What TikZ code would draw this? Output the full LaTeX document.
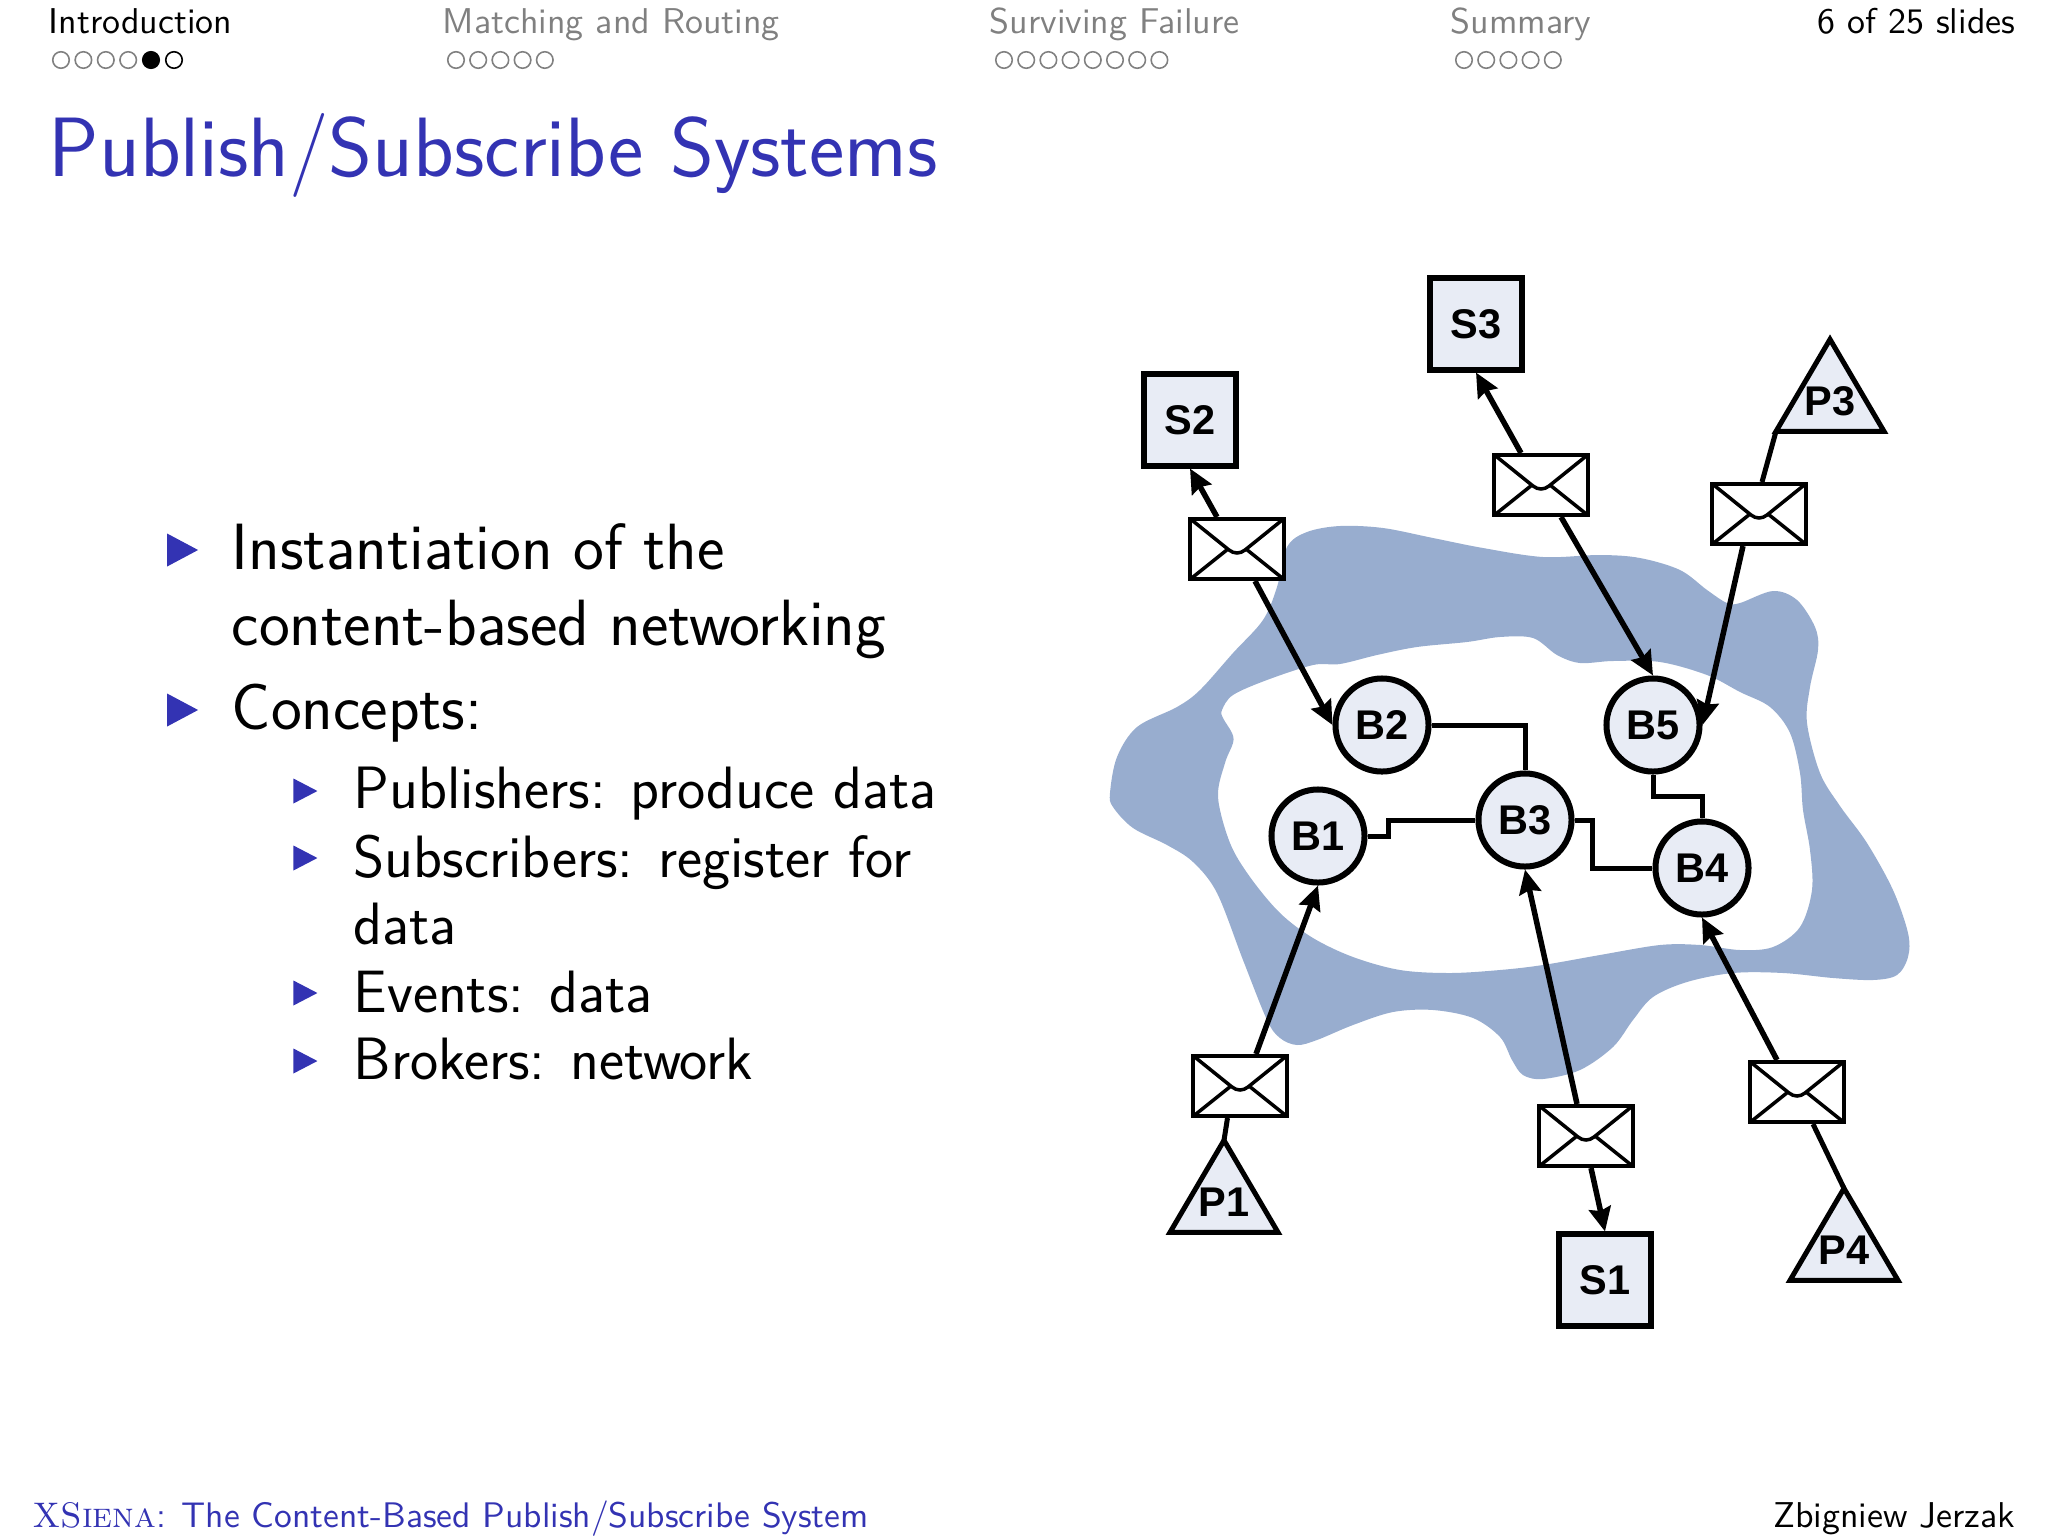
\documentclass[tikz,border=0pt]{standalone}
\usepackage{fontspec}
\usepackage{tikz}
\usetikzlibrary{arrows.meta,shapes.geometric}
\newfontfamily\labelfont{Liberation Sans}
\definecolor{slideBlue}{RGB}{51,51,179}
\definecolor{navGrey}{RGB}{128,128,128}
\definecolor{netBlue}{RGB}{152,173,207}
\definecolor{nodeFill}{RGB}{232,236,245}
\newcommand{\publabel}[1]{\raisebox{0pt}[0pt][0pt]{#1}}
\begin{document}
\begin{tikzpicture}[x=0.01cm,y=-0.01cm,
    navtext/.style={anchor=base west,inner sep=0pt,font=\sffamily\fontsize{10.2}{12}\selectfont},
    navdot/.style={draw,circle,minimum size=0.165cm,inner sep=0pt,line width=0.45pt},
    bodyA/.style={anchor=west,inner sep=0pt,align=left,font=\sffamily\fontsize{18.6}{21.5}\selectfont},
    bodyB/.style={anchor=west,inner sep=0pt,align=left,font=\sffamily\fontsize{17}{19.2}\selectfont},
    bulletA/.style={isosceles triangle,isosceles triangle stretches,fill=slideBlue,inner sep=0pt,minimum width=0.33cm,minimum height=0.31cm},
    bulletB/.style={isosceles triangle,isosceles triangle stretches,fill=slideBlue,inner sep=0pt,minimum width=0.25cm,minimum height=0.24cm},
    subbox/.style={draw,line width=0.06cm,fill=nodeFill,minimum size=0.91cm,inner sep=0pt,font=\labelfont\bfseries\fontsize{11.8}{13}\selectfont},
    brokernode/.style={draw,circle,line width=0.06cm,fill=nodeFill,minimum size=0.93cm,inner sep=0pt,font=\labelfont\bfseries\fontsize{11.8}{13}\selectfont},
    pubnode/.style={draw,isosceles triangle,isosceles triangle stretches,shape border rotate=90,line width=0.05cm,outer sep=0pt,fill=nodeFill,minimum width=1.08cm,minimum height=0.92cm,inner sep=0pt,font=\labelfont\bfseries\fontsize{11.8}{13}\selectfont},
    envelope/.style={draw,line width=0.04cm,fill=white,minimum width=0.93cm,minimum height=0.60cm,inner sep=0pt,
        path picture={
            \coordinate (c) at (path picture bounding box.center);
            \draw[line width=0.035cm] (path picture bounding box.north west) -- ([shift={(-8,1)}]c) .. controls ([shift={(-3,5)}]c) and ([shift={(3,5)}]c) .. ([shift={(8,1)}]c) -- (path picture bounding box.north east);
            \draw[line width=0.035cm] (path picture bounding box.south west) -- ([shift={(-9,0)}]c);
            \draw[line width=0.035cm] (path picture bounding box.south east) -- ([shift={(9,0)}]c);
        }},
    msg/.style={line width=0.055cm,-{Stealth[length=0.24cm,width=0.22cm,inset=0.03cm]}},
    link/.style={line width=0.05cm}]
    \useasboundingbox (0,0) rectangle (2048,1536);

    % headline
    \node[navtext] (navA) at (48,33) {Introduction};
    \node[navtext,text=navGrey] (navB) at (442,33) {Matching and Routing};
    \node[navtext,text=navGrey] (navC) at (989,33) {Surviving Failure};
    \node[navtext,text=navGrey] (navD) at (1450,33) {Summary};
    \node[navtext,anchor=base east] (navE) at (2016,33) {6 of 25 slides};
    \foreach \i in {0,1,2,3}
        \node[navdot,draw=navGrey] (dA\i) at (61+22.4*\i,60) {};
    \node[navdot,fill=black] (dA4) at (151,60) {};
    \node[navdot] (dA5) at (174,60) {};
    \foreach \i in {0,...,4}
        \node[navdot,draw=navGrey] (dB\i) at (456+22.2*\i,60) {};
    \foreach \i in {0,...,7}
        \node[navdot,draw=navGrey] (dC\i) at (1004+22.2*\i,60) {};
    \foreach \i in {0,...,4}
        \node[navdot,draw=navGrey] (dD\i) at (1464+22.2*\i,60) {};

    % title and bullets
    \node[anchor=base west,inner sep=0pt,text=slideBlue,font=\sffamily\fontsize{23.95}{28}\selectfont] (title) at (48,176) {Publish/Subscribe Systems};
    \node[bulletA] (bA1) at (177,550) {};
    \node[bulletA] (bA2) at (177,710) {};
    \foreach \y [count=\i] in {791,858,993,1061}
        \node[bulletB] (bB\i) at (301,\y) {};
    \node[bodyA] (itemA) at (231,591) {Instantiation of the\\content-based networking};
    \node[bodyA] (itemB) at (231,713) {Concepts:};
    \node[bodyB] (itemC) at (353,794) {Publishers: produce data};
    \node[bodyB] (itemD) at (353,890) {Subscribers: register for\\data};
    \node[bodyB] (itemE) at (353,992) {Events: data};
    \node[bodyB] (itemF) at (353,1059) {Brokers: network};

    % broker network
    \fill[netBlue,even odd rule]
        plot[smooth cycle,tension=0.55] coordinates {(1287,547)(1307,532)(1340,526)(1383,528)(1433,538)(1483,548)(1543,557)(1600,555)(1640,558)(1680,570)(1707,590)(1727,603)(1740,603)(1773,591)(1797,600)(1815,627)(1818,650)(1810,687)(1807,723)(1820,773)(1840,806)(1867,843)(1893,890)(1908,933)(1908,957)(1897,975)(1873,980)(1833,978)(1783,973)(1733,973)(1687,982)(1653,997)(1633,1020)(1613,1047)(1580,1070)(1543,1079)(1523,1075)(1512,1060)(1500,1037)(1473,1018)(1433,1010)(1393,1012)(1353,1025)(1317,1040)(1297,1045)(1280,1038)(1267,1020)(1243,960)(1217,893)(1193,862)(1167,845)(1133,828)(1113,807)(1110,793)(1117,757)(1137,727)(1177,707)(1200,690)(1233,653)(1263,620)(1277,587)}
        plot[smooth cycle,tension=0.55] coordinates {(1222,710)(1233,695)(1267,680)(1313,665)(1340,664)(1377,655)(1417,647)(1467,642)(1500,637)(1533,638)(1557,655)(1580,663)(1613,661)(1660,662)(1707,675)(1740,692)(1770,707)(1790,733)(1800,773)(1803,810)(1810,850)(1812,890)(1800,927)(1773,947)(1740,950)(1700,945)(1660,945)(1600,955)(1543,965)(1500,970)(1450,973)(1400,970)(1353,957)(1313,938)(1280,913)(1250,877)(1230,843)(1218,797)(1225,763)(1233,743)(1232,733)(1223,718)};

    \node[brokernode] (b1) at (1318,836) {B1};
    \node[brokernode] (b2) at (1382,725) {B2};
    \node[brokernode] (b3) at (1525,820) {B3};
    \node[brokernode] (b4) at (1702,868) {B4};
    \node[brokernode] (b5) at (1653,725) {B5};

    \node[subbox] (s1) at (1605,1280) {S1};
    \node[subbox] (s2) at (1190,420) {S2};
    \node[subbox] (s3) at (1476,324) {S3};

    \node[pubnode] (p1) at (1224,1216) {\publabel{P1}};
    \node[pubnode] (p3) at (1830,415) {\publabel{P3}};
    \node[pubnode] (p4) at (1844,1264) {\publabel{P4}};

    \node[envelope] (es1) at (1586,1136) {};
    \node[envelope] (es2) at (1237,549) {};
    \node[envelope] (es3) at (1541,485) {};
    \node[envelope] (ep1) at (1240,1086) {};
    \node[envelope] (ep3) at (1759,514) {};
    \node[envelope] (ep4) at (1797,1092) {};

    \draw[link] (b2.east) -| (b3.north);
    \draw[link] (b1.east) -- ++(21,0) |- (b3.west);
    \draw[link] (b3.east) -- ++(18,0) |- (b4.west);
    \draw[link] (b5.south) -- ++(0,22) -| (b4.north);

    \draw[msg] ([xshift=-0.2cm]es2.north) -- (s2.south);
    \draw[msg] ([xshift=0.18cm]es2.south) -- (b2.west);
    \draw[msg] ([xshift=-0.2cm]es3.north) -- (s3.south);
    \draw[msg] ([xshift=0.2cm]es3.south) -- (b5.north);
    \draw[msg] ([xshift=-0.16cm]ep3.south) -- (b5.east);
    \draw[msg] ([xshift=0.16cm]ep1.north) -- (b1.south);
    \draw[msg] ([xshift=-0.09cm]es1.north) -- (b3.south);
    \draw[msg] ([xshift=0.05cm]es1.south) -- (s1.north);
    \draw[msg] ([xshift=-0.2cm]ep4.north) -- (b4.south);
    \draw[link] (p3.left corner) -- ([xshift=0.03cm]ep3.north);
    \draw[link] ([xshift=-0.125cm]ep1.south) -- (p1.apex);
    \draw[link] ([xshift=0.16cm]ep4.south) -- (p4.apex);

    % footline
    \node[anchor=base west,inner sep=0pt,text=slideBlue,font=\sffamily\fontsize{10.1}{12}\selectfont] (footL) at (33,1527) {\textrm{X\textsc{Siena}}: The Content-Based Publish/Subscribe System};
    \node[anchor=base east,inner sep=0pt,font=\sffamily\fontsize{10.2}{12}\selectfont] (footR) at (2016,1527) {Zbigniew Jerzak};
\end{tikzpicture}
\end{document}
